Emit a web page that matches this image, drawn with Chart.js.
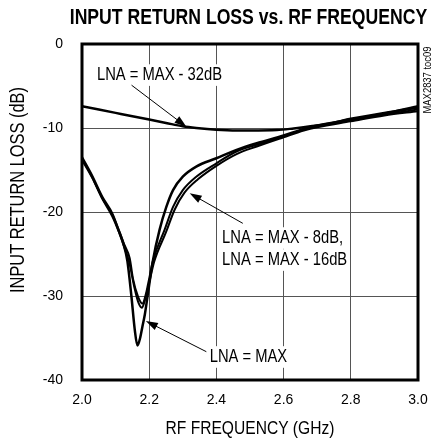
<!DOCTYPE html>
<html>
<head>
<meta charset="utf-8">
<script src="https://cdn.jsdelivr.net/npm/chart.js@4.4.1/dist/chart.umd.min.js"></script>
<style>
  html, body { margin: 0; padding: 0; background: #fff; }
  canvas { display: block; }
</style>
</head>
<body>
<canvas id="chart" width="432" height="444"></canvas>
<script>
// Data (GHz, dB)
const freqMax = [2.00, 2.03, 2.06, 2.09, 2.11, 2.125, 2.135, 2.147, 2.157, 2.165, 2.173, 2.18, 2.187, 2.197, 2.21, 2.231, 2.251, 2.271, 2.30, 2.34, 2.40, 2.46, 2.52, 2.60, 2.66, 2.70, 2.80, 2.90, 3.00];
const lossMax = [-13.5, -15.7, -18.2, -20.2, -22.3, -24.0, -25.8, -30.0, -34.0, -35.9, -35.0, -33.6, -32.2, -29.5, -26.0, -22.1, -19.4, -17.4, -15.8, -14.6, -13.6, -12.6, -11.8, -10.9, -10.1, -9.7, -9.0, -8.3, -7.4];

const freq8 = [2.00, 2.03, 2.06, 2.09, 2.11, 2.125, 2.142, 2.152, 2.167, 2.18, 2.19, 2.197, 2.212, 2.246, 2.271, 2.30, 2.34, 2.40, 2.46, 2.52, 2.60, 2.657, 2.70, 2.80, 2.90, 3.00];
const loss8 = [-13.6, -15.8, -18.3, -20.3, -22.2, -23.8, -25.5, -28.0, -30.1, -30.9, -29.8, -28.5, -25.7, -22.1, -19.4, -17.4, -15.8, -14.2, -12.8, -12.0, -11.0, -10.2, -9.8, -9.1, -8.4, -7.8];

const freq16 = [2.00, 2.03, 2.06, 2.09, 2.11, 2.125, 2.14, 2.155, 2.168, 2.178, 2.188, 2.199, 2.215, 2.25, 2.276, 2.305, 2.345, 2.40, 2.46, 2.52, 2.60, 2.66, 2.70, 2.80, 2.90, 3.00];
const loss16 = [-13.8, -15.9, -18.4, -20.5, -22.4, -24.1, -25.9, -28.8, -30.8, -31.4, -30.4, -28.6, -25.9, -22.4, -19.7, -17.7, -16.1, -14.5, -13.1, -12.2, -11.1, -10.3, -9.9, -9.2, -8.5, -8.0];

const freq32 = [2.00, 2.05, 2.10, 2.15, 2.20, 2.25, 2.30, 2.34, 2.40, 2.50, 2.58, 2.63, 2.68, 2.74, 2.80, 2.90, 3.00];
const loss32 = [-7.4, -7.8, -8.2, -8.6, -9.0, -9.4, -9.8, -10.0, -10.2, -10.3, -10.25, -10.05, -9.8, -9.45, -8.9, -8.2, -7.6];

const xTicks = [2.0, 2.2, 2.4, 2.6, 2.8, 3.0];
const yTicks = [0, -10, -20, -30, -40];

// Labels with arrows, in data coordinates
const notes = [
  { lines: ['LNA = MAX - 32dB'], x: 2.0445, y: -3.7, from: [2.1475, -4.9], to: [2.3107, -9.85] },
  { lines: ['LNA = MAX - 8dB,', 'LNA = MAX - 16dB'], x: 2.417, y: -23.1, from: [2.4786, -21.35], to: [2.3205, -17.77] },
  { lines: ['LNA = MAX'], x: 2.38, y: -37.26, from: [2.37, -36.63], to: [2.19, -32.98] }
];

// Pick a condensed font, squeeze regular one if narrow isn't there
function hasFont(name) {
  const c = document.createElement('canvas').getContext('2d');
  c.font = '20px monospace';
  const a = c.measureText('MAX2837 toc09').width;
  c.font = '20px "' + name + '", monospace';
  return c.measureText('MAX2837 toc09').width !== a;
}
const NARROW = hasFont('Liberation Sans Narrow');
const FAMILY = NARROW ? '"Liberation Sans Narrow", "Liberation Sans", sans-serif' : '"Liberation Sans", sans-serif';
const SQUEEZE = NARROW ? 1 : 0.82;
const TICK_SIZE = NARROW ? 17 : 14;

function pts(xs, ys) {
  return xs.map((x, i) => ({ x: x, y: ys[i] }));
}

function putText(ctx, text, x, y, size, o = {}) {
  ctx.save();
  ctx.font = (o.bold ? 'bold ' : '') + size + 'px ' + FAMILY;
  ctx.textBaseline = 'middle';
  ctx.textAlign = 'left';
  ctx.translate(x, y);
  if (o.rotate) ctx.rotate(o.rotate);
  ctx.scale(SQUEEZE, 1);
  const w = ctx.measureText(text).width;
  const left = o.align === 'center' ? -w / 2 : 0;
  if (o.bg) {
    ctx.fillStyle = '#fff';
    ctx.fillRect(left - 3, -size * 0.6, w + 6, size * 1.2);
  }
  ctx.fillStyle = '#000';
  ctx.fillText(text, left, 0);
  ctx.restore();
}

function arrow(ctx, x0, y0, x1, y1) {
  const a = Math.atan2(y1 - y0, x1 - x0);
  const c = Math.cos(a), s = Math.sin(a);
  ctx.save();
  ctx.strokeStyle = '#000';
  ctx.fillStyle = '#000';
  ctx.lineWidth = 1;
  ctx.beginPath();
  ctx.moveTo(x0, y0);
  ctx.lineTo(x1 - 8 * c, y1 - 8 * s);
  ctx.stroke();
  ctx.beginPath();
  ctx.moveTo(x1, y1);
  ctx.lineTo(x1 - 12 * c + 4 * s, y1 - 12 * s - 4 * c);
  ctx.lineTo(x1 - 12 * c - 4 * s, y1 - 12 * s + 4 * c);
  ctx.closePath();
  ctx.fill();
  ctx.restore();
}

const decor = {
  id: 'decor',
  beforeDatasetsDraw(chart) {
    const ctx = chart.ctx;
    const xs = chart.scales.x, ys = chart.scales.y;
    notes.forEach(n => {
      const px = xs.getPixelForValue(n.x);
      n.lines.forEach((t, i) => {
        putText(ctx, t, px, ys.getPixelForValue(n.y) + i * 22, 18, { bg: true });
      });
      arrow(ctx, xs.getPixelForValue(n.from[0]), ys.getPixelForValue(n.from[1]),
        xs.getPixelForValue(n.to[0]), ys.getPixelForValue(n.to[1]));
    });
  },
  afterDatasetsDraw(chart) {
    const ctx = chart.ctx;
    const a = chart.chartArea;
    ctx.save();
    ctx.strokeStyle = '#000';
    ctx.lineWidth = 3;
    ctx.strokeRect(a.left, a.top, a.right - a.left, a.bottom - a.top);
    ctx.restore();

    putText(ctx, 'INPUT RETURN LOSS vs. RF FREQUENCY', 248.5, 18, 21.5, { bold: true, align: 'center' });
    putText(ctx, 'INPUT RETURN LOSS (dB)', 18, 190, 20, { rotate: -Math.PI / 2, align: 'center' });
    putText(ctx, 'RF FREQUENCY (GHz)', (a.left + a.right) / 2, 429, 19, { align: 'center' });
    putText(ctx, 'MAX2837 toc09', 427.5, 80, 11.5, { rotate: -Math.PI / 2, align: 'center' });
  }
};

function series(xs, ys, w) {
  return {
    data: pts(xs, ys),
    borderColor: '#000',
    borderWidth: w,
    pointRadius: 0,
    fill: false,
    cubicInterpolationMode: 'monotone'
  };
}

new Chart(document.getElementById('chart'), {
  type: 'line',
  data: {
    datasets: [
      series(freq32, loss32, 2.5),
      series(freq16, loss16, 2),
      series(freq8, loss8, 2),
      series(freqMax, lossMax, 2.5)
    ]
  },
  options: {
    responsive: false,
    animation: false,
    devicePixelRatio: 1,
    layout: { padding: { top: 44, right: 14, left: 0, bottom: 0 } },
    plugins: { legend: { display: false }, tooltip: { enabled: false }, title: { display: false } },
    scales: {
      x: {
        type: 'linear',
        min: 2, max: 3,
        afterBuildTicks: s => { s.ticks = xTicks.map(v => ({ value: v })); },
        afterFit: s => { s.height = 64; s.paddingLeft = 0; s.paddingRight = 0; },
        grid: { color: '#555', lineWidth: 1, drawTicks: false },
        border: { display: false },
        ticks: {
          padding: 12,
          color: '#000',
          font: { family: FAMILY, size: TICK_SIZE },
          callback: v => v.toFixed(1)
        }
      },
      y: {
        min: -40, max: 0,
        afterBuildTicks: s => { s.ticks = yTicks.map(v => ({ value: v })); },
        afterFit: s => { s.width = 82; s.paddingTop = 0; s.paddingBottom = 0; },
        grid: { color: '#555', lineWidth: 1, drawTicks: false },
        border: { display: false },
        ticks: {
          padding: 19,
          color: '#000',
          font: { family: FAMILY, size: TICK_SIZE },
          callback: v => String(v)
        }
      }
    }
  },
  plugins: [decor]
});
</script>
</body>
</html>
